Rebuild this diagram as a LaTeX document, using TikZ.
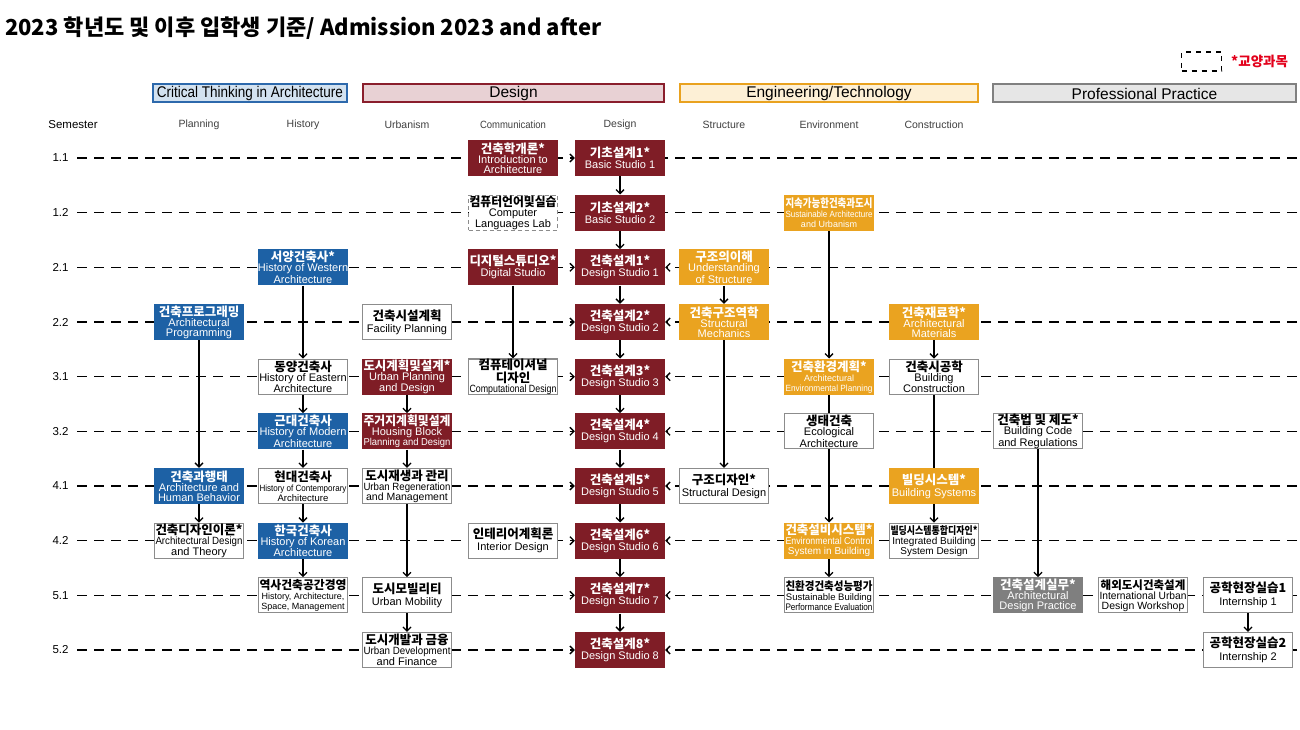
\documentclass[tikz,border=0pt]{standalone}
\usepackage{fontspec}
\usepackage{graphicx}
\setmainfont{Liberation Sans}
\newfontfamily\kr{Noto Sans CJK KR}
\usetikzlibrary{arrows.meta}
\pgfdeclarelayer{bg}
\pgfsetlayers{bg,main}

\definecolor{dred}{HTML}{7F1D26}
\definecolor{dblue}{HTML}{1D61A5}
\definecolor{dorange}{HTML}{EAA320}
\definecolor{dgray}{HTML}{7F7F7F}
\definecolor{bordergray}{HTML}{8C8C8C}
\definecolor{hblue}{HTML}{D3E2F0}
\definecolor{hblueb}{HTML}{2D69AC}
\definecolor{hred}{HTML}{E8D1D4}
\definecolor{hredb}{HTML}{8A1E2C}
\definecolor{hor}{HTML}{FDF0D6}
\definecolor{horb}{HTML}{E9A21F}
\definecolor{hgr}{HTML}{E6E6E6}
\definecolor{hgrb}{HTML}{808080}
\definecolor{legred}{HTML}{E3001B}
\definecolor{subgray}{HTML}{404040}

\newsavebox\fitbox
\newcommand\fitw[2]{\sbox\fitbox{#2}\ifdim\wd\fitbox>#1\resizebox{#1}{\height}{\usebox\fitbox}\else\usebox\fitbox\fi}
\newcommand\K[1]{{\kr\bfseries\fontsize{12.5}{10}\selectfont\fitw{87pt}{#1}}}
\newcommand\Ks[2]{{\kr\bfseries\fontsize{#1}{10}\selectfont\fitw{87pt}{#2}}}
\newcommand\E[2]{{\fontsize{#1}{10}\selectfont\fitw{87pt}{#2}}}

\tikzset{
  course/.style={minimum width=90pt, minimum height=36pt, inner sep=0pt, align=center,
    font=\fontsize{11}{10}\selectfont},
  credb/.style={course, fill=dred, text=white},
  cblue/.style={course, fill=dblue, text=white},
  corg/.style={course, fill=dorange, text=white},
  cwht/.style={course, fill=white, draw=bordergray, line width=1.2pt, text=black,
    minimum width=89pt, minimum height=35pt},
  cgry/.style={course, fill=dgray, text=white},
  cdsh/.style={cwht, dash pattern=on 4pt off 3pt},
  rowline/.style={line width=1.4pt, dash pattern=on 10pt off 7pt},
  tip/.style={-{Straight Barb[length=4pt,width=8pt,line width=1.3pt]}},
  flow/.style={line width=1.3pt, tip},
  plain/.style={line width=1.3pt},
  hdr/.style={minimum height=18pt, inner sep=0pt, line width=2pt,
    font=\fontsize{15.5}{16}\selectfont},
  sub/.style={text=subgray, font=\fontsize{10.5}{11}\selectfont, inner sep=0pt},
  rowlab/.style={font=\fontsize{11.5}{12}\selectfont, inner sep=0pt}
}

\newcommand\rA{158}
\newcommand\rB{212.7}
\newcommand\rC{267.3}
\newcommand\rD{322}
\newcommand\rE{376.7}
\newcommand\rF{431.3}
\newcommand\rG{486}
\newcommand\rH{540.7}
\newcommand\rI{595.3}
\newcommand\rJ{650}

\begin{document}
\begin{tikzpicture}[x=1pt,y=-1pt]
\begin{pgfonlayer}{bg}
\fill[white] (0,0) rectangle (1300,730);
\end{pgfonlayer}
\useasboundingbox (0,0) rectangle (1300,730);

% title
\node[anchor=west, inner sep=0pt, font=\kr\bfseries\fontsize{22}{24}\selectfont] (title) at (5,28)
  {2023 학년도 및 이후 입학생 기준/ Admission 2023 and after};

% legend
\node[draw=black, line width=1.5pt, dash pattern=on 5pt off 5pt, minimum width=40pt, minimum height=19pt, inner sep=0pt] (legbox) at (1201.5,61.5) {};
\node[anchor=west, inner sep=0pt, text=legred, font=\kr\bfseries\fontsize{13.5}{14}\selectfont] (legtxt) at (1231,61.5) {*교양과목};

% category headers
\node[hdr, fill=hblue, draw=hblueb, minimum width=194pt] (hct) at (250,93.5) {\fitw{186pt}{Critical Thinking in Architecture}};
\node[hdr, fill=hred, draw=hredb, minimum width=301pt] (hde) at (513.5,93.5) {Design};
\node[hdr, fill=hor, draw=horb, minimum width=298pt] (hen) at (829,93.5) {Engineering/Technology};
\node[hdr, fill=hgr, draw=hgrb, minimum width=303pt] (hpp) at (1144.5,93.5) {Professional Practice};

% sub headers
\node[rowlab] (sem) at (73,125) {Semester};
\node[sub] (sP) at (199,125) {Planning};
\node[sub] (sH) at (303,125) {History};
\node[sub] (sU) at (407,125) {Urbanism};
\node[sub] (sC) at (513,125) {\fitw{66pt}{Communication}};
\node[sub] (sD) at (620,125) {Design};
\node[sub] (sS) at (724,125) {Structure};
\node[sub] (sE) at (829,125) {Environment};
\node[sub] (sK) at (934,125) {Construction};

% row labels and line ends
\foreach \n/\y/\t in {1/\rA/1.1, 2/\rB/1.2, 3/\rC/2.1, 4/\rD/2.2, 5/\rE/3.1, 6/\rF/3.2, 7/\rG/4.1, 8/\rH/4.2, 9/\rI/5.1, 10/\rJ/5.2}{
  \node[rowlab] (r\n) at (60.5,\y) {\t};
  \coordinate (a\n) at (77,\y);
  \coordinate (b\n) at (1297,\y);
}

% Design column
\node[credb] (d1) at (620,\rA) {\K{기초설계1*}\\[1pt]Basic Studio 1};
\node[credb] (d2) at (620,\rB) {\K{기초설계2*}\\[1pt]Basic Studio 2};
\node[credb] (d3) at (620,\rC) {\K{건축설계1*}\\[1pt]Design Studio 1};
\node[credb] (d4) at (620,\rD) {\K{건축설계2*}\\[1pt]Design Studio 2};
\node[credb] (d5) at (620,\rE) {\K{건축설계3*}\\[1pt]Design Studio 3};
\node[credb] (d6) at (620,\rF) {\K{건축설계4*}\\[1pt]Design Studio 4};
\node[credb] (d7) at (620,\rG) {\K{건축설계5*}\\[1pt]Design Studio 5};
\node[credb] (d8) at (620,\rH) {\K{건축설계6*}\\[1pt]Design Studio 6};
\node[credb] (d9) at (620,\rI) {\K{건축설계7*}\\[1pt]Design Studio 7};
\node[credb] (d10) at (620,\rJ) {\K{건축설계8*}\\[1pt]Design Studio 8};

% Communication
\node[credb] (c1) at (513,\rA) {\K{건축학개론*}\\Introduction to\\Architecture};
\node[cdsh] (c2) at (513,\rB) {\K{컴퓨터언어및실습}\\Computer\\Languages Lab};
\node[credb] (c3) at (513,\rC) {\K{디지털스튜디오*}\\[1pt]Digital Studio};
\node[cwht] (c5) at (513,\rE) {\K{컴퓨테이셔널}\\\K{디자인}\\\E{10.5}{Computational Design}};
\node[cwht] (c8) at (513,\rH) {\K{인테리어계획론}\\[2pt]Interior Design};

% Planning
\node[cblue] (p4) at (199,\rD) {\K{건축프로그래밍}\\Architectural\\Programming};
\node[cblue] (p7) at (199,\rG) {\K{건축과행태}\\Architecture and\\Human Behavior};
\node[cwht] (p8) at (199,\rH) {\K{건축디자인이론*}\\\E{10.5}{Architectural Design}\\and Theory};

% History
\node[cblue] (h3) at (303,\rC) {\K{서양건축사*}\\History of Western\\Architecture};
\node[cwht] (h5) at (303,\rE) {\K{동양건축사}\\History of Eastern\\Architecture};
\node[cblue] (h6) at (303,\rF) {\K{근대건축사}\\History of Modern\\Architecture};
\node[cwht] (h7) at (303,\rG) {\K{현대건축사}\\\E{9}{History of Contemporary}\\\E{9.5}{Architecture}};
\node[cblue] (h8) at (303,\rH) {\K{한국건축사}\\History of Korean\\Architecture};
\node[cwht] (h9) at (303,\rI) {\Ks{12}{역사건축공간경영}\\\E{9}{History, Architecture,}\\\E{9}{Space, Management}};

% Urbanism
\node[cwht] (u4) at (407,\rD) {\K{건축시설계획}\\[2pt]Facility Planning};
\node[credb] (u5) at (407,\rE) {\K{도시계획및설계*}\\Urban Planning\\and Design};
\node[credb] (u6) at (407,\rF) {\K{주거지계획및설계}\\Housing Block\\\E{10}{Planning and Design}};
\node[cwht] (u7) at (407,\rG) {\K{도시재생과 관리}\\\E{10.5}{Urban Regeneration}\\\E{10.5}{and Management}};
\node[cwht] (u9) at (407,\rI) {\K{도시모빌리티}\\[2pt]Urban Mobility};
\node[cwht] (u10) at (407,\rJ) {\K{도시개발과 금융}\\\E{10.5}{Urban Development}\\and Finance};

% Structure
\node[corg] (s3) at (724,\rC) {\K{구조의이해}\\Understanding\\of Structure};
\node[corg] (s4) at (724,\rD) {\K{건축구조역학}\\Structural\\Mechanics};
\node[cwht] (s7) at (724,\rG) {\K{구조디자인*}\\[2pt]Structural Design};

% Environment
\node[corg] (e2) at (829,\rB) {\Ks{11.5}{지속가능한건축과도시}\\\E{9}{Sustainable Architecture}\\\E{9}{and Urbanism}};
\node[corg] (e5) at (829,\rE) {\K{건축환경계획*}\\\E{9}{Architectural}\\\E{9}{Environmental Planning}};
\node[cwht] (e6) at (829,\rF) {\K{생태건축}\\Ecological\\Architecture};
\node[corg] (e8) at (829,\rH) {\K{건축설비시스템*}\\\E{10}{Environmental Control}\\\E{10}{System in Building}};
\node[cwht] (e9) at (829,\rI) {\Ks{11.5}{친환경건축성능평가}\\\E{9.5}{Sustainable Building}\\\E{9.5}{Performance Evaluation}};

% Construction
\node[corg] (k4) at (934,\rD) {\K{건축재료학*}\\Architectural\\Materials};
\node[cwht] (k5) at (934,\rE) {\K{건축시공학}\\Building\\Construction};
\node[corg] (k7) at (934,\rG) {\K{빌딩시스템*}\\[2pt]Building Systems};
\node[cwht] (k8) at (934,\rH) {\Ks{10.5}{빌딩시스템통합디자인*}\\\E{10}{Integrated Building}\\\E{10}{System Design}};

% Professional practice
\node[cwht] (q6) at (1038,\rF) {\K{건축법 및 제도*}\\Building Code\\and Regulations};
\node[cgry] (q9) at (1038,\rI) {\K{건축설계실무*}\\Architectural\\Design Practice};
\node[cwht] (w9) at (1143,\rI) {\Ks{11.5}{해외도시건축설계}\\\E{10.5}{International Urban}\\\E{10.5}{Design Workshop}};
\node[cwht] (i9) at (1248,\rI) {\K{공학현장실습1}\\[3pt]Internship 1};
\node[cwht] (i10) at (1248,\rJ) {\K{공학현장실습2}\\[3pt]Internship 2};

\begin{pgfonlayer}{bg}
  % semester rows
  \draw[rowline, tip] (a1) -- (d1.west);
  \draw[rowline] (b1) -- (d1.east);
  \draw[rowline] (a2) -- (d2.west);
  \draw[rowline] (b2) -- (d2.east);
  \foreach \n in {3,...,10}{
    \draw[rowline, tip] (a\n) -- (d\n.west);
    \draw[rowline, tip] (b\n) -- (d\n.east);
  }
  % vertical connectors
  \foreach \s/\t in {d1/d2,d2/d3,d3/d4,d4/d5,d5/d6,d6/d7,d7/d8,d8/d9,d9/d10,
      p4/p7,p7/p8,h3/h5,h5/h6,h6/h7,h7/h8,h8/h9,u5/u6,u6/u7,u7/u9,u9/u10,
      c3/c5,s3/s4,s4/s7,e2/e5,e6/e8,e8/e9,k4/k5,k7/k8,q6/q9,i9/i10}{
    \draw[flow] (\s.south) -- (\t.north);
  }
  \draw[plain] (e5.south) -- (e6.north);
  \draw[plain] (k5.south) -- (k7.north);
\end{pgfonlayer}
\end{tikzpicture}
\end{document}
